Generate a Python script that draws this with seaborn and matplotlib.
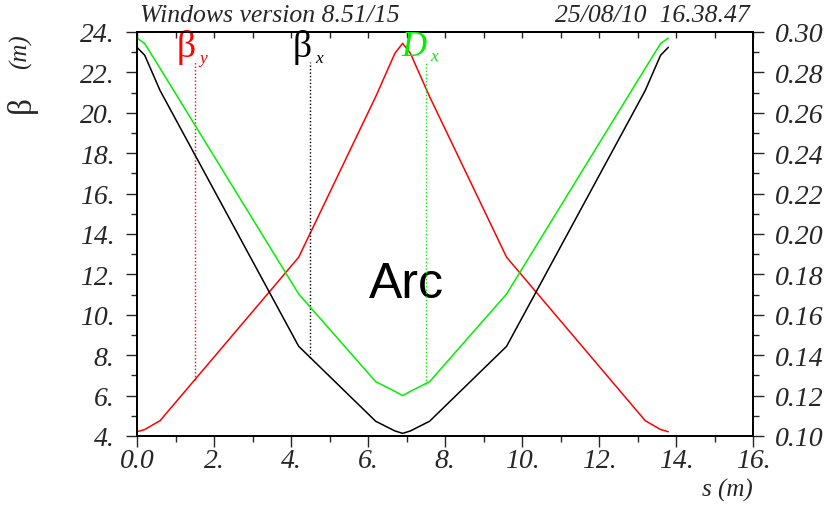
import numpy as np
import pandas as pd
import matplotlib
matplotlib.use("Agg")
import matplotlib.pyplot as plt
from matplotlib.ticker import MultipleLocator
import seaborn as sns

# ---- data ----
s_pos = [0.0, 0.2, 0.6, 4.2, 6.2, 6.7, 6.9, 7.1, 7.6, 9.6, 13.2, 13.6, 13.8]
beta_x = [23.24, 22.85, 21.1, 8.44, 4.73, 4.25, 4.13, 4.25, 4.73, 8.44, 21.1, 22.85, 23.24]
beta_y = [4.21, 4.32, 4.76, 12.85, 20.8, 22.95, 23.44, 22.95, 20.8, 12.85, 4.76, 4.32, 4.21]
disp_x = [0.2970, 0.2943, 0.2820, 0.1703, 0.1269, 0.1221, 0.1200, 0.1221, 0.1269, 0.1703, 0.2820, 0.2943, 0.2970]

x_ticks = [0, 2, 4, 6, 8, 10, 12, 14, 16]
x_tick_labels = ["0.0", "2.", "4.", "6.", "8.", "10.", "12.", "14.", "16."]
y_ticks = [4, 6, 8, 10, 12, 14, 16, 18, 20, 22, 24]
y_tick_labels = ["4.", "6.", "8.", "10.", "12.", "14.", "16.", "18.", "20.", "22.", "24."]
y2_ticks = [0.10, 0.12, 0.14, 0.16, 0.18, 0.20, 0.22, 0.24, 0.26, 0.28, 0.30]
y2_tick_labels = ["0.10", "0.12", "0.14", "0.16", "0.18", "0.20", "0.22", "0.24", "0.26", "0.28", "0.30"]

label_s = {"beta_y": 1.5, "beta_x": 4.5, "disp_x": 7.5}

df = pd.DataFrame({"s": s_pos, "beta_x": beta_x, "beta_y": beta_y, "disp_x": disp_x})

sns.set_style("ticks")
plt.rcParams["font.family"] = ["Liberation Serif", "DejaVu Serif"]
plt.rcParams["axes.edgecolor"] = "black"
plt.rcParams["axes.linewidth"] = 1.3

RED, BLACK, GREEN = "#ff0000", "#000000", "#00f000"

fig = plt.figure(figsize=(8.3, 5.1), dpi=100)
ax = fig.add_axes([137 / 830, 1 - 437 / 510, (753 - 137) / 830, (437 - 33) / 510])
ax2 = ax.twinx()

sns.lineplot(data=df, x="s", y="beta_y", ax=ax, color=RED, lw=1.1, sort=False, estimator=None)
sns.lineplot(data=df, x="s", y="beta_x", ax=ax, color=BLACK, lw=1.1, sort=False, estimator=None)
sns.lineplot(data=df, x="s", y="disp_x", ax=ax2, color=GREEN, lw=1.1, sort=False, estimator=None)

ax.set_xlim(0, 16)
ax.set_ylim(4, 24)
ax2.set_ylim(0.10, 0.30)
ax.set_xlabel("")
ax.set_ylabel("")
ax2.set_ylabel("")

tick_font = dict(fontsize=20, fontstyle="italic")
ax.set_xticks(x_ticks)
ax.set_xticklabels(x_tick_labels, **tick_font)
ax.set_yticks(y_ticks)
ax.set_yticklabels(y_tick_labels, **tick_font)
ax2.set_yticks(y2_ticks)
ax2.set_yticklabels(y2_tick_labels, **tick_font)
ax.xaxis.set_minor_locator(MultipleLocator(1))
ax.yaxis.set_minor_locator(MultipleLocator(1))
ax2.yaxis.set_minor_locator(MultipleLocator(0.01))

ax.tick_params(axis="x", which="major", direction="out", length=8, width=1, pad=0.5, bottom=True, top=False)
ax.tick_params(axis="x", which="minor", direction="out", length=4, width=1, bottom=True, top=False)
ax.tick_params(axis="y", which="major", direction="out", length=8, width=1, pad=8, left=True, right=False)
ax.tick_params(axis="y", which="minor", direction="out", length=4, width=1, left=True, right=False)
ax2.tick_params(axis="y", which="major", direction="out", length=8, width=1, pad=8, right=True)
ax2.tick_params(axis="y", which="minor", direction="out", length=4, width=1, right=True)

top = ax.secondary_xaxis("top")
top.set_xticks(range(0, 17))
top.tick_params(axis="x", which="major", direction="in", length=4, width=1, labeltop=False)
top.xaxis.set_minor_locator(MultipleLocator(100))

for a in (ax, ax2):
    for sp in a.spines.values():
        sp.set_visible(True)
        sp.set_color("black")
        sp.set_linewidth(1.3)

# ---- curve labels with dotted drop lines ----
dot = (0, (1, 1.5))
top_beta = 22.5
top_disp = 0.2856
sy = label_s["beta_y"]
ax.vlines(sy, np.interp(sy, s_pos, beta_y), top_beta, colors=RED, linestyles=[dot], lw=1)
sx = label_s["beta_x"]
ax.vlines(sx, np.interp(sx, s_pos, beta_x), top_beta, colors=BLACK, linestyles=[dot], lw=1)
sd = label_s["disp_x"]
ax2.vlines(sd, np.interp(sd, s_pos, disp_x), top_disp, colors=GREEN, linestyles=[dot], lw=1)

def curve_label(a, xv, yv, big, sub, color, big_style="normal", big_size=27):
    a.annotate(big, xy=(xv, yv), xytext=(0.8, 4.5), textcoords="offset points",
               ha="right", va="baseline", fontsize=big_size, style=big_style,
               family="Liberation Serif", color=color)
    a.annotate(sub, xy=(xv, yv), xytext=(3.5, 0.5), textcoords="offset points",
               ha="left", va="baseline", fontsize=12.5, style="italic",
               family="Liberation Serif", color=color)

curve_label(ax, sy, top_beta, "β", "y", RED)
curve_label(ax, sx, top_beta, "β", "x", BLACK)
curve_label(ax2, sd, top_disp, "D", "x", GREEN, big_style="italic", big_size=25)

ax.text(0.438, 0.375, "Arc", transform=ax.transAxes, ha="center", va="center",
        fontsize=36, family="Liberation Sans", color="black")

# ---- header and axis titles ----
fig.text(140 / 830, 1 - 22.5 / 510, "Windows version 8.51/15", ha="left", va="baseline",
         fontsize=18.5, fontstyle="italic")
fig.text(750 / 830, 1 - 22.5 / 510, "25/08/10  16.38.47", ha="right", va="baseline",
         fontsize=18.5, fontstyle="italic")
fig.text(753 / 830, 1 - 497 / 510, "s (m)", ha="right", va="baseline",
         fontsize=18, fontstyle="italic")
fig.text(21 / 830, 1 - 105 / 510, "β", rotation=90, ha="center", va="center", fontsize=24)
fig.text(21 / 830, 1 - 52 / 510, "(m)", rotation=90, ha="center", va="center",
         fontsize=18, fontstyle="italic")

fig.savefig("out.png", dpi=100)
